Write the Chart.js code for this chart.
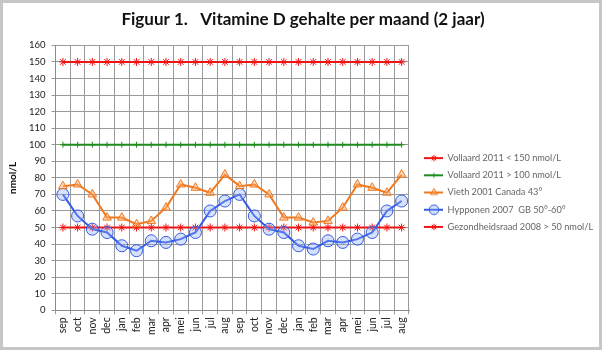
<!DOCTYPE html>
<html>
<head>
<meta charset="utf-8">
<title>Vitamine D gehalte per maand</title>
<script src="https://cdn.jsdelivr.net/npm/chart.js@4.4.0/dist/chart.umd.min.js"></script>
<style>
  html, body { margin: 0; padding: 0; background: #fff; }
  #frame { width: 602px; height: 350px; box-sizing: border-box; border: 3px solid #c6c6c6; background: #fff; }
  #wrap { position: relative; width: 596px; height: 344px; }
</style>
</head>
<body>
<div id="frame"><div id="wrap"><canvas id="vitD"></canvas></div></div>
<script>
// maanden, twee jaar achter elkaar
var maanden = ['sep', 'oct', 'nov', 'dec', 'jan', 'feb', 'mar', 'apr', 'mei', 'jun', 'jul', 'aug',
               'sep', 'oct', 'nov', 'dec', 'jan', 'feb', 'mar', 'apr', 'mei', 'jun', 'jul', 'aug'];

// grenswaarden (nmol/L)
var vollaardMax = [150, 150, 150, 150, 150, 150, 150, 150, 150, 150, 150, 150,
                   150, 150, 150, 150, 150, 150, 150, 150, 150, 150, 150, 150];
var vollaardMin = [100, 100, 100, 100, 100, 100, 100, 100, 100, 100, 100, 100,
                   100, 100, 100, 100, 100, 100, 100, 100, 100, 100, 100, 100];
var gezondheidsraad = [50, 50, 50, 50, 50, 50, 50, 50, 50, 50, 50, 50,
                       50, 50, 50, 50, 50, 50, 50, 50, 50, 50, 50, 50];

// gemeten gehaltes
var vieth = [75, 76, 70, 56, 56, 52, 54, 62, 76, 74, 71, 82,
             75, 76, 70, 56, 56, 53, 54, 62, 76, 74, 71, 82];
var hypponen = [70, 57, 49, 47, 39, 36, 42, 41, 43, 47, 60, 66,
                70, 57, 49, 47, 39, 37, 42, 41, 43, 47, 60, 66];

var yTicks = [0, 10, 20, 30, 40, 50, 60, 70, 80, 90, 100, 110, 120, 130, 140, 150, 160];

var ROOD = 'rgb(240, 20, 20)';
var GROEN = 'rgb(30, 140, 30)';
var ORANJE = 'rgb(240, 120, 30)';
var BLAUW = 'rgb(50, 90, 230)';

/* klein plaatje voor de legenda: lijntje met marker */
function legendaPlaatje(kleur, vulling, stijl, straal) {
    var c = document.createElement('canvas');
    c.width = 26;
    c.height = 12;
    var g = c.getContext('2d');
    g.strokeStyle = kleur;
    g.lineWidth = 2;
    g.beginPath();
    g.moveTo(7, 6);
    g.lineTo(26, 6);
    g.stroke();
    g.fillStyle = vulling;
    g.lineWidth = 1;
    Chart.helpers.drawPoint(g, {pointStyle: stijl, radius: straal * 0.8, rotation: 0, borderWidth: 1}, 17, 6);
    return c;
}

function reeks(label, data, kleur, vulling, stijl, straal) {
    return {
        label: label,
        data: data,
        borderColor: kleur,
        backgroundColor: vulling,
        borderWidth: 2,
        pointStyle: stijl,
        pointRadius: straal,
        pointBorderWidth: 1,
        pointBorderColor: kleur,
        pointBackgroundColor: vulling,
        tension: 0,
        legendPlaatje: legendaPlaatje(kleur, vulling, stijl, straal)
    };
}

var ctx = document.getElementById('vitD').getContext('2d');
var grafiek = new Chart(ctx, {
    type: 'line',
    data: {
        labels: maanden,
        datasets: [
            reeks('Vollaard 2011 < 150 nmol/L', vollaardMax, ROOD, ROOD, 'star', 4),
            reeks('Vollaard 2011 > 100 nmol/L', vollaardMin, GROEN, GROEN, 'cross', 3),
            reeks('Vieth 2001 Canada 43°', vieth, ORANJE, 'rgba(250, 170, 110, 0.45)', 'triangle', 5),
            reeks('Hypponen 2007  GB 50°-60°', hypponen, BLAUW, 'rgba(140, 170, 245, 0.35)', 'circle', 6),
            reeks('Gezondheidsraad 2008 > 50 nmol/L', gezondheidsraad, ROOD, ROOD, 'star', 4)
        ]
    },
    options: {
        responsive: true,
        maintainAspectRatio: false,
        animation: false,
        layout: {
            padding: {left: 4, right: 0, top: 0, bottom: 9}
        },
        plugins: {
            title: {
                display: true,
                text: 'Figuur 1.   Vitamine D gehalte per maand (2 jaar)',
                color: '#111',
                font: {family: 'Lato', size: 17, weight: 'bold'},
                padding: {top: 6, bottom: 16}
            },
            legend: {
                position: 'right',
                maxWidth: 190,
                // lege titel schuift de items wat omlaag
                title: {
                    display: true,
                    text: ' ',
                    font: {size: 10},
                    padding: {top: 32, bottom: 0}
                },
                labels: {
                    usePointStyle: true,
                    pointStyleWidth: 26,
                    padding: 8,
                    color: '#222',
                    font: {family: 'Lato', size: 9.2},
                    generateLabels: function (chart) {
                        return chart.data.datasets.map(function (ds, i) {
                            return {
                                text: ds.label,
                                datasetIndex: i,
                                pointStyle: ds.legendPlaatje,
                                fillStyle: ds.borderColor,
                                strokeStyle: ds.borderColor,
                                lineWidth: 0,
                                hidden: false
                            };
                        });
                    }
                }
            },
            tooltip: {enabled: false}
        },
        scales: {
            x: {
                offset: true,
                grid: {
                    offset: true,
                    color: '#9a9a9a',
                    lineWidth: 1,
                    tickLength: 4
                },
                border: {color: '#8a8a8a'},
                ticks: {
                    minRotation: 90,
                    maxRotation: 90,
                    autoSkip: false,
                    color: '#222',
                    padding: 3,
                    font: {family: 'Lato', size: 10.5}
                }
            },
            y: {
                min: 0,
                max: 160,
                afterBuildTicks: function (as) {
                    as.ticks = yTicks.map(function (v) { return {value: v}; });
                },
                grid: {
                    color: '#9a9a9a',
                    lineWidth: 1,
                    tickLength: 4
                },
                border: {color: '#8a8a8a'},
                ticks: {
                    color: '#222',
                    padding: 6,
                    font: {family: 'Lato', size: 9.5}
                },
                title: {
                    display: true,
                    text: 'nmol/L',
                    color: '#111',
                    font: {family: 'Lato', size: 10, weight: 'bold'},
                    padding: {top: 0, bottom: 4}
                }
            }
        }
    }
});
</script>
</body>
</html>
